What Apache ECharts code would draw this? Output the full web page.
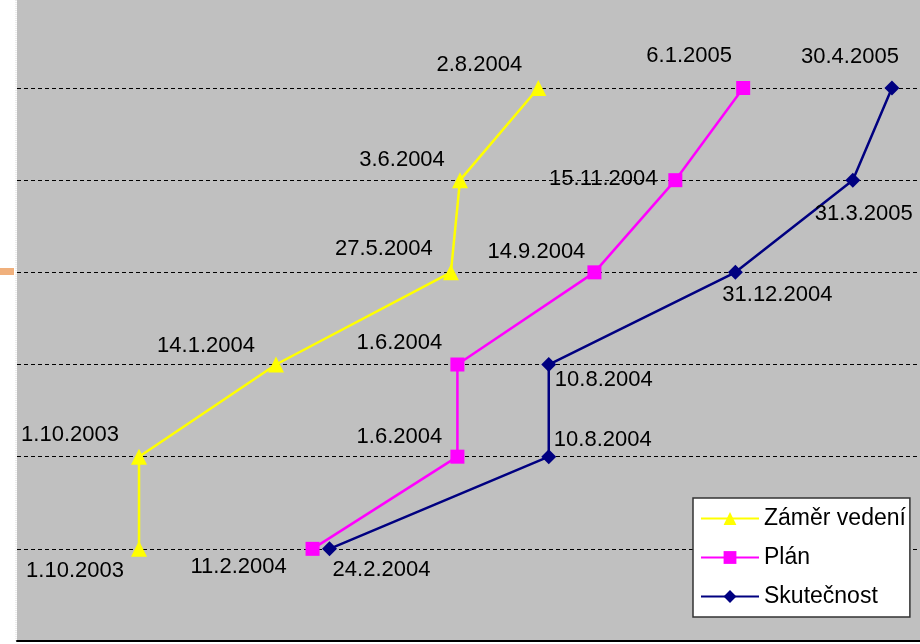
<!DOCTYPE html>
<html>
<head>
<meta charset="utf-8">
<script src="https://cdn.jsdelivr.net/npm/echarts@6/dist/echarts.min.js"></script>
<style>
  html, body { margin: 0; padding: 0; background: #fff; }
  #chart { width: 920px; height: 644px; }
</style>
</head>
<body>
<div id="chart"></div>
<script>
// milestone levels (y) and dates (x) per series
const levels = [1, 2, 3, 4, 5, 6]
const zamerDates = ['1.10.2003', '1.10.2003', '14.1.2004', '27.5.2004', '3.6.2004', '2.8.2004']
const planDates = ['11.2.2004', '1.6.2004', '1.6.2004', '14.9.2004', '15.11.2004', '6.1.2005']
const skutecnostDates = ['24.2.2004', '10.8.2004', '10.8.2004', '31.12.2004', '31.3.2005', '30.4.2005']
const seriesNames = ['Záměr vedení', 'Plán', 'Skutečnost']

// where each date label sits relative to its point
const zamerOffsets = [[-64, 22], [-69, -22], [-70, -19], [-67, -23], [-58, -20], [-59, -23]]
const planOffsets = [[-74, 18], [-58, -20], [-58, -22], [-58, -20], [-72, -1], [-54, -32]]
const skutecnostOffsets = [[52, 21], [54, -17], [55, 15], [42, 23], [11, 34], [-42, -31]]

const DAY = 86400000
const parseDate = (s) => {
	const p = s.split('.').map(Number)
	return new Date(p[2], p[1] - 1, p[0]).getTime()
}

const buildData = (dates, offsets) => dates.map((d, i) => ({
	name: d,
	value: [parseDate(d), levels[i]],
	label: { offset: offsets[i] }
}))

const FONT = 'Liberation Sans, Arial, sans-serif'
const labelStyle = {
	show: true,
	position: 'inside',
	formatter: (p) => p.name,
	color: '#000',
	fontSize: 22,
	fontFamily: FONT,
	align: 'center',
	verticalAlign: 'middle'
}

const chart = echarts.init(document.getElementById('chart'))
const option = {
	backgroundColor: '#fff',
	animation: false,
	grid: {
		left: 17, right: 0, top: 0, bottom: 3,
		show: true, backgroundColor: '#c0c0c0', borderWidth: 0
	},
	xAxis: {
		type: 'time',
		min: parseDate('1.10.2003') - 93.5 * DAY,
		max: parseDate('30.4.2005') + 21.5 * DAY,
		axisLine: { show: true, lineStyle: { color: '#000', width: 2 } },
		axisTick: { show: false },
		axisLabel: { show: false },
		splitLine: { show: false }
	},
	yAxis: {
		type: 'value',
		min: 0,
		max: 6.955,
		interval: 1,
		axisLine: { show: false },
		axisTick: { show: false },
		axisLabel: { show: false },
		splitLine: {
			show: true,
			// last entry hides the extra line ECharts puts at the axis max
			lineStyle: {
				color: ['#000', '#000', '#000', '#000', '#000', '#000', '#000', 'rgba(0,0,0,0)'],
				type: [4, 3],
				width: 1
			}
		}
	},
	legend: {
		orient: 'vertical',
		left: 693,
		top: 498,
		padding: [8, 4, 8, 7],
		itemGap: 14,
		itemWidth: 58,
		itemHeight: 16,
		backgroundColor: '#fff',
		borderColor: '#333',
		borderWidth: 1.5,
		borderRadius: 0,
		textStyle: { fontSize: 23, color: '#000', fontFamily: FONT, lineHeight: 25, width: 138 },
		data: seriesNames
	},
	graphic: [
		{ type: 'rect', shape: { x: 0, y: 268, width: 14, height: 7 }, style: { fill: '#f0b07c' } },
		{ type: 'line', shape: { x1: 16, y1: 0, x2: 16, y2: 641 }, style: { stroke: '#d8d8d8', lineWidth: 1, lineDash: [1, 1] } }
	],
	series: [
		{
			name: seriesNames[0],
			type: 'line',
			data: buildData(zamerDates, zamerOffsets),
			symbol: 'triangle',
			symbolSize: 16,
			color: '#ffff00',
			lineStyle: { width: 2.5 },
			label: labelStyle
		},
		{
			name: seriesNames[1],
			type: 'line',
			data: buildData(planDates, planOffsets),
			symbol: 'rect',
			symbolSize: 14,
			color: '#ff00ff',
			lineStyle: { width: 2.5 },
			label: labelStyle
		},
		{
			name: seriesNames[2],
			type: 'line',
			data: buildData(skutecnostDates, skutecnostOffsets),
			symbol: 'diamond',
			symbolSize: 15,
			color: '#000080',
			lineStyle: { width: 2.5 },
			label: labelStyle
		}
	]
}
chart.setOption(option)
</script>
</body>
</html>
